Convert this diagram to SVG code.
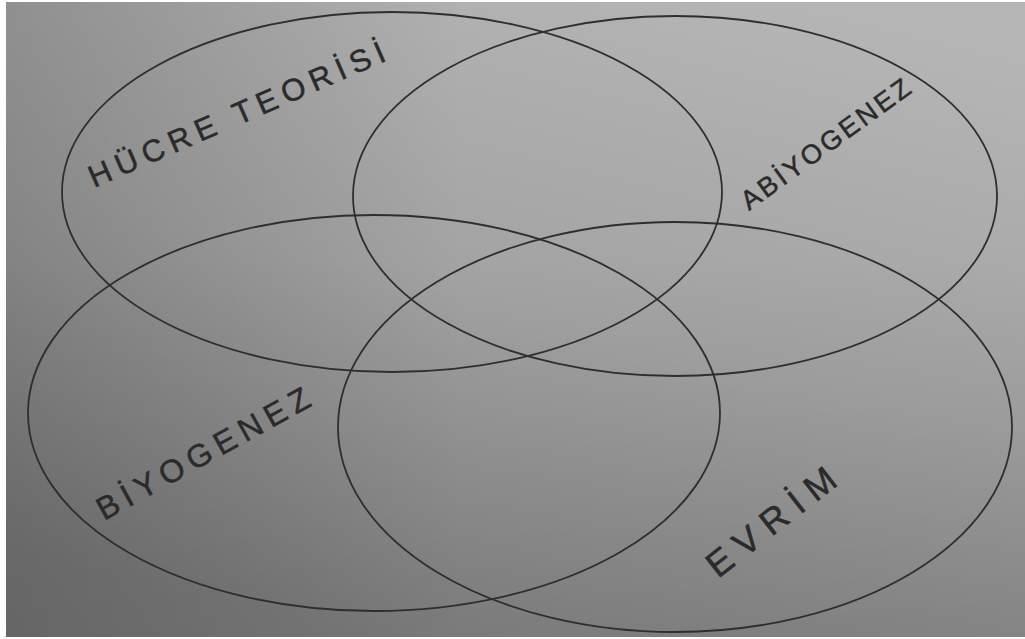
<svg xmlns="http://www.w3.org/2000/svg" width="1025" height="639" viewBox="0 0 1025 639">
<defs>
<linearGradient id="paper" x1="0.75" y1="0" x2="0.35" y2="1">
<stop offset="0" stop-color="#b5b5b5"/>
<stop offset="0.5" stop-color="#a2a2a2"/>
<stop offset="1" stop-color="#868686"/>
</linearGradient>
<linearGradient id="shadeL" x1="0" y1="0" x2="1" y2="0">
<stop offset="0" stop-color="#000" stop-opacity="0.16"/>
<stop offset="0.45" stop-color="#000" stop-opacity="0"/>
</linearGradient>
<linearGradient id="shadeB" x1="0" y1="0" x2="0" y2="1">
<stop offset="0.4" stop-color="#000" stop-opacity="0"/>
<stop offset="1" stop-color="#000" stop-opacity="0.1"/>
</linearGradient>
</defs>
<style>
.set{fill:none;stroke:#2e2e2e;stroke-width:1.8}
.lbl{font-family:"Liberation Sans","DejaVu Sans",sans-serif;fill:#2a2a2a;stroke:#2a2a2a;stroke-width:0.5}
</style>
<rect x="0" y="0" width="1025" height="639" fill="#ffffff"/>
<rect x="6" y="2" width="1019" height="635" fill="url(#paper)"/>
<rect x="6" y="2" width="1019" height="635" fill="url(#shadeL)"/>
<rect x="6" y="2" width="1019" height="635" fill="url(#shadeB)"/>
<g id="hucre-teorisi">
<ellipse class="set" cx="392" cy="192" rx="330" ry="180"/>
<text class="lbl" font-size="31" letter-spacing="6.5" transform="translate(94,188) rotate(-23.5)">HÜCRE TEORİSİ</text>
</g>
<g id="abiyogenez">
<ellipse class="set" cx="675" cy="196" rx="322" ry="180"/>
<text class="lbl" font-size="27" letter-spacing="3" transform="translate(749,211) rotate(-36)">ABİYOGENEZ</text>
</g>
<g id="biyogenez">
<ellipse class="set" cx="374" cy="413" rx="346" ry="198"/>
<text class="lbl" font-size="32" letter-spacing="6.5" transform="translate(104,521) rotate(-29)">BİYOGENEZ</text>
</g>
<g id="evrim">
<ellipse class="set" cx="675" cy="427" rx="337" ry="205"/>
<text class="lbl" font-size="36" letter-spacing="10" transform="translate(718,579) rotate(-38)">EVRİM</text>
</g>
</svg>
